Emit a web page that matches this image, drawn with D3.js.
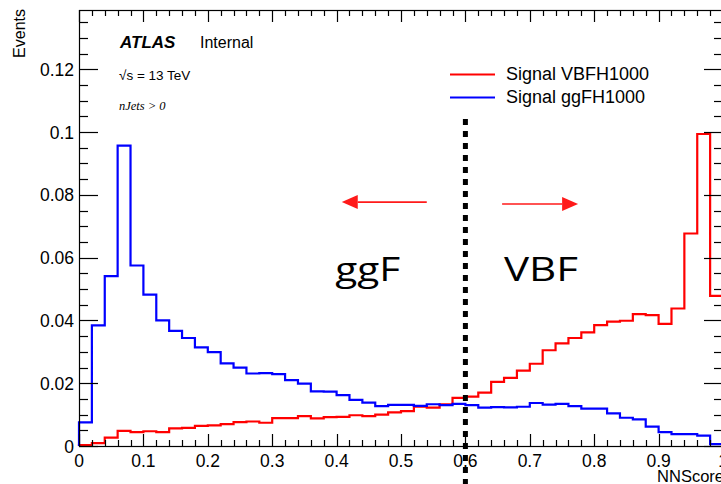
<!DOCTYPE html>
<html>
<head>
<meta charset="utf-8">
<script src="https://cdn.jsdelivr.net/npm/d3@7"></script>
<style>
  html, body { margin: 0; padding: 0; background: #fff; }
  svg { display: block; }
  text { font-family: "Liberation Sans", Arial, Helvetica, sans-serif; fill: #000; }
</style>
</head>
<body>
<svg id="chart" width="721" height="484"></svg>
<script>
// ---------- data ----------
const binWidth = 0.02;
const nBins = 50;
const binLow = d3.range(nBins).map(i => i * binWidth);

const vbfValues = [
  0.0003, 0.0009, 0.0027, 0.0048, 0.0044, 0.0047, 0.0044, 0.0056, 0.0058, 0.0064,
  0.0066, 0.0070, 0.0076, 0.0078, 0.0074, 0.0089, 0.0089, 0.0095, 0.0088, 0.0092,
  0.0093, 0.0098, 0.0095, 0.0100, 0.0107, 0.0111, 0.0125, 0.0122, 0.0133, 0.0153,
  0.0157, 0.0170, 0.0204, 0.0217, 0.0240, 0.0262, 0.0305, 0.0327, 0.0344, 0.0362,
  0.0385, 0.0396, 0.0399, 0.0420, 0.0417, 0.0389, 0.0438, 0.0677, 0.0994, 0.0478
];
const ggfValues = [
  0.0075, 0.0384, 0.0541, 0.0957, 0.0575, 0.0482, 0.0400, 0.0367, 0.0344, 0.0314,
  0.0299, 0.0263, 0.0250, 0.0231, 0.0232, 0.0229, 0.0210, 0.0199, 0.0174, 0.0173,
  0.0162, 0.0147, 0.0138, 0.0127, 0.0131, 0.0131, 0.0128, 0.0133, 0.0130, 0.0134,
  0.0130, 0.0122, 0.0124, 0.0123, 0.0125, 0.0137, 0.0132, 0.0134, 0.0127, 0.0119,
  0.0119, 0.0104, 0.0090, 0.0085, 0.0062, 0.0044, 0.0038, 0.0038, 0.0033, 0.0006
];
const seriesNames = ["Signal VBFH1000", "Signal ggFH1000"];
const seriesColors = ["#ff0000", "#0000ff"];

const xTickValues = [0, 0.1, 0.2, 0.3, 0.4, 0.5, 0.6, 0.7, 0.8, 0.9, 1.0];
const xTickLabels = ["0", "0.1", "0.2", "0.3", "0.4", "0.5", "0.6", "0.7", "0.8", "0.9", "1"];
const yTickValues = [0, 0.02, 0.04, 0.06, 0.08, 0.1, 0.12];
const yTickLabels = ["0", "0.02", "0.04", "0.06", "0.08", "0.1", "0.12"];
const cutValue = 0.6;

// ---------- layout ----------
const svg = d3.select("#chart");
const X0 = 79, X1 = 723, Y0 = 446, Y1 = 10;
const x = d3.scaleLinear().domain([0, 1]).range([X0, X1]);
const y = d3.scaleLinear().domain([0, 0.1389]).range([Y0, Y1]);

// ---------- histograms ----------
function stepPoints(values) {
  const pts = [[binLow[0], 0]];
  values.forEach((v, i) => {
    pts.push([binLow[i], v]);
    pts.push([binLow[i] + binWidth, v]);
  });
  pts.push([binLow[nBins - 1] + binWidth, 0]);
  return pts;
}
const line = d3.line().x(d => x(d[0])).y(d => y(d[1]));
[vbfValues, ggfValues].forEach((vals, k) => {
  svg.append("path")
    .attr("d", line(stepPoints(vals)))
    .attr("fill", "none")
    .attr("stroke", seriesColors[k])
    .attr("stroke-width", 2.2)
    .attr("stroke-linejoin", "miter");
});

// ---------- frame & ticks ----------
const frame = svg.append("g").attr("stroke", "#000").attr("fill", "none");
frame.append("rect")
  .attr("x", X0 + 0.5).attr("y", Y1 + 0.5)
  .attr("width", X1 - X0).attr("height", Y0 - Y1)
  .attr("stroke-width", 1.2);

const xMinor = d3.range(0, 1.0001, 0.02);
xMinor.forEach(v => {
  const major = Math.abs(v * 10 - Math.round(v * 10)) < 1e-6;
  const len = major ? 12 : 6;
  const px = Math.round(x(v)) + 0.5;
  frame.append("line").attr("x1", px).attr("x2", px).attr("y1", Y0).attr("y2", Y0 - len).attr("stroke-width", 1.2);
  frame.append("line").attr("x1", px).attr("x2", px).attr("y1", Y1).attr("y2", Y1 + len).attr("stroke-width", 1.2);
});
const yMinor = d3.range(0, 0.1389, 0.005);
yMinor.forEach(v => {
  const major = Math.abs(v * 50 - Math.round(v * 50)) < 1e-6;
  const len = major ? 19 : 9;
  const py = Math.round(y(v)) + 0.5;
  frame.append("line").attr("x1", X0).attr("x2", X0 + len).attr("y1", py).attr("y2", py).attr("stroke-width", 1.2);
  frame.append("line").attr("x1", X1).attr("x2", X1 - len).attr("y1", py).attr("y2", py).attr("stroke-width", 1.2);
});

// tick labels
xTickValues.forEach((v, i) => {
  svg.append("text").attr("x", x(v)).attr("y", 467)
    .attr("text-anchor", "middle").attr("font-size", 17.5).text(xTickLabels[i]);
});
yTickValues.forEach((v, i) => {
  svg.append("text").attr("x", 74).attr("y", y(v) + 6.5)
    .attr("text-anchor", "end").attr("font-size", 17.5).text(yTickLabels[i]);
});

// axis titles
svg.append("text").attr("transform", "translate(25,9) rotate(-90)")
  .attr("text-anchor", "end").attr("font-size", 16).text("Events");
svg.append("text").attr("x", 724).attr("y", 482)
  .attr("text-anchor", "end").attr("font-size", 16.5).text("NNScore");

// ---------- ATLAS labels ----------
svg.append("text").attr("x", 120).attr("y", 48).attr("font-size", 17)
  .attr("font-weight", "bold").attr("font-style", "italic").text("ATLAS");
svg.append("text").attr("x", 200).attr("y", 48).attr("font-size", 16).text("Internal");
const rs = svg.append("text").attr("x", 119).attr("y", 80).attr("font-size", 13.5);
rs.append("tspan").text("\u221As = 13 TeV");
svg.append("text").attr("x", 119).attr("y", 110)
  .style("font-family", "'Liberation Serif', 'DejaVu Serif', serif")
  .attr("font-style", "italic").attr("font-size", 12.5).text("nJets > 0");

// ---------- legend ----------
seriesNames.forEach((name, k) => {
  const ly = 74.5 + k * 23;
  svg.append("line").attr("x1", 450).attr("x2", 495).attr("y1", ly).attr("y2", ly)
    .attr("stroke", seriesColors[k]).attr("stroke-width", 2);
  svg.append("text").attr("x", 506).attr("y", ly + 5.5).attr("font-size", 18).text(name);
});

// ---------- cut line ----------
svg.append("line")
  .attr("x1", x(cutValue)).attr("x2", x(cutValue))
  .attr("y1", 119).attr("y2", 484)
  .attr("stroke", "#000").attr("stroke-width", 5)
  .attr("stroke-dasharray", "6,6");

// ---------- arrows ----------
function arrow(fromV, toV, atY) {
  const xa = x(fromV), xb = x(toV), yy = y(atY);
  const dir = xb > xa ? 1 : -1;
  const headLen = 16, headHalf = 7;
  svg.append("line").attr("x1", xa).attr("x2", xb - dir * headLen)
    .attr("y1", yy).attr("y2", yy).attr("stroke", "#ff1a1a").attr("stroke-width", 1.6);
  svg.append("path")
    .attr("d", `M${xb},${yy} L${xb - dir * headLen},${yy - headHalf} L${xb - dir * headLen},${yy + headHalf} Z`)
    .attr("fill", "#ff1a1a");
}
arrow(0.540, 0.408, 0.0777);
arrow(0.657, 0.775, 0.0771);

// ---------- region labels ----------
svg.append("text").attr("x", x(0.398)).attr("y", 281)
  .style("font-family", "'Open Sans', 'Noto Sans', sans-serif")
  .attr("font-size", 32).attr("textLength", 65).attr("lengthAdjust", "spacingAndGlyphs").text("ggF");
svg.append("text").attr("x", x(0.660)).attr("y", 281)
  .style("font-family", "'Open Sans', 'Noto Sans', sans-serif")
  .attr("font-size", 32).attr("textLength", 74).attr("lengthAdjust", "spacingAndGlyphs").text("VBF");
</script>
</body>
</html>
